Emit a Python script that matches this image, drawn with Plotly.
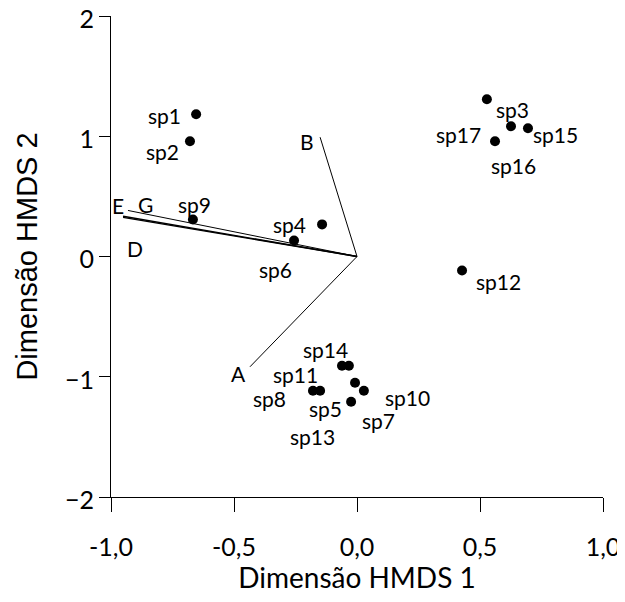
import plotly.graph_objects as go

# Species scores
species = ["sp1", "sp2", "sp9", "sp4", "sp6", "sp3", "sp17", "sp15", "sp16", "sp12",
           "sp14", "sp11", "sp8", "sp5", "sp13", "sp7", "sp10"]
sx = [-0.654, -0.679, -0.667, -0.142, -0.256, 0.528, 0.626, 0.695, 0.561, 0.427,
      -0.061, -0.150, -0.179, -0.024, -0.033, 0.028, -0.008]
sy = [1.183, 0.958, 0.308, 0.267, 0.133, 1.308, 1.083, 1.067, 0.958, -0.117,
      -0.908, -1.117, -1.117, -1.208, -0.908, -1.117, -1.050]
# label offsets in pixels (style)
lab_dx = [-32, -27, 2, -33, -19, 26, -53, 28, 18, 36, -16, -25, -43, -26, -36, 15, 52]
lab_dy = [-1, -10, 15, 0, -29, -10, -8, -6, -24, -11, 16, 16, -8, -7, -71, -30, -15]

# Environmental vectors
vec_names = ["A", "B", "D", "E", "G"]
vx = [-0.435, -0.150, -0.951, -0.951, -0.931]
vy = [-0.917, 0.992, 0.325, 0.335, 0.383]
vec_lab_x = [-0.483, -0.203, -0.902, -0.971, -0.858]
vec_lab_y = [-0.975, 0.958, 0.067, 0.425, 0.433]

FONT = "Lato"
fig = go.Figure()

for name, x, y in zip(vec_names, vx, vy):
    fig.add_trace(go.Scatter(x=[0, x], y=[0, y], mode="lines",
                             line=dict(color="black", width=1.4 if name in ("D", "E") else 1),
                             showlegend=False, hoverinfo="skip"))

fig.add_trace(go.Scatter(x=sx, y=sy, mode="markers",
                         marker=dict(color="black", size=10),
                         showlegend=False))

for name, x, y, dx, dy in zip(species, sx, sy, lab_dx, lab_dy):
    fig.add_annotation(x=x, y=y, text=name, showarrow=False, xshift=dx, yshift=dy,
                       font=dict(family=FONT, size=21, color="black"))

for name, x, y in zip(vec_names, vec_lab_x, vec_lab_y):
    fig.add_annotation(x=x, y=y, text=name, showarrow=False,
                       font=dict(family=FONT, size=21, color="black"))

fig.update_layout(
    width=617, height=586,
    margin=dict(l=103, r=22, t=8, b=97),
    paper_bgcolor="white", plot_bgcolor="white",
    font=dict(family=FONT, size=26, color="black"),
    xaxis=dict(range=[-1, 1], tickvals=[-1, -0.5, 0, 0.5, 1],
               ticktext=["-1,0", "-0,5", "0,0", "0,5", "1,0"],
               showline=True, linecolor="black", linewidth=1.2,
               ticks="outside", ticklen=14, tickcolor="black",
               showgrid=False, zeroline=False, automargin=False,
               tickfont=dict(size=25), ticklabeloverflow="allow",
               ticklabelstandoff=14,
               title=dict(text="Dimensão HMDS 1", font=dict(size=28), standoff=10)),
    yaxis=dict(range=[-2, 2], tickvals=[-2, -1, 0, 1, 2],
               showline=True, linecolor="black", linewidth=1.2,
               ticks="outside", ticklen=11, tickcolor="black",
               showgrid=False, zeroline=False, automargin=False,
               tickfont=dict(size=25), ticklabeloverflow="allow",
               ticklabelshift=3,
               title=dict(text="Dimensão HMDS 2", font=dict(size=29, family="Liberation Sans"), standoff=18)),
)

fig.write_html("out.html")
